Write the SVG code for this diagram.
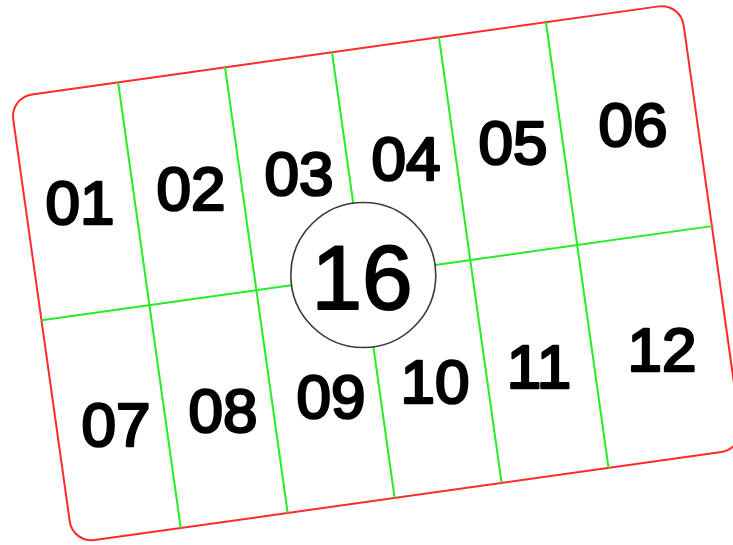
<svg xmlns="http://www.w3.org/2000/svg" width="733" height="545" viewBox="0 0 733 545">
<style>
.frame{fill:#fff;stroke:#ff2a2a;stroke-width:2}
.grid{stroke:#22ee22;stroke-width:2;fill:none}
.lbl{font-family:"Liberation Sans",Arial,sans-serif;font-size:62px;fill:#000;stroke:#000;stroke-width:2.6;stroke-linejoin:round;text-anchor:middle}
.hub{fill:#fff;stroke:#3a3a3a;stroke-width:1.6}
.hubt{font-family:"Liberation Sans",Arial,sans-serif;font-size:91px;fill:#000;stroke:#000;stroke-width:2;stroke-linejoin:round;text-anchor:middle}
</style>
<rect width="733" height="545" fill="#fff"/>
<g transform="rotate(-8)">
  <rect id="frame" class="frame" x="-3.5" y="98" width="677" height="450" rx="22"/>
  <g id="connectors" class="grid">
    <line x1="105.5" y1="98" x2="105.5" y2="548"/>
    <line x1="213.5" y1="98" x2="213.5" y2="548"/>
    <line x1="321.5" y1="98" x2="321.5" y2="548"/>
    <line x1="429.5" y1="98" x2="429.5" y2="548"/>
    <line x1="537.5" y1="98" x2="537.5" y2="548"/>
    <line x1="-3.5" y1="323" x2="673.5" y2="323"/>
  </g>
</g>
<g id="n01"><text class="lbl" x="80" y="224">01</text></g>
<g id="n02"><text class="lbl" x="191" y="210">02</text></g>
<g id="n03"><text class="lbl" x="299" y="195">03</text></g>
<g id="n04"><text class="lbl" x="406" y="180">04</text></g>
<g id="n05"><text class="lbl" x="513" y="164">05</text></g>
<g id="n06"><text class="lbl" x="633" y="146">06</text></g>
<g id="n07"><text class="lbl" x="116" y="446">07</text></g>
<g id="n08"><text class="lbl" x="223" y="432">08</text></g>
<g id="n09"><text class="lbl" x="331" y="418">09</text></g>
<g id="n10"><text class="lbl" x="435" y="403">10</text></g>
<g id="n11"><text class="lbl" x="539" y="388">11</text></g>
<g id="n12"><text class="lbl" x="662" y="371">12</text></g>
<g id="n16">
  <circle class="hub" cx="363.3" cy="275" r="72.5"/>
  <text class="hubt" x="362" y="309">16</text>
</g>
</svg>
